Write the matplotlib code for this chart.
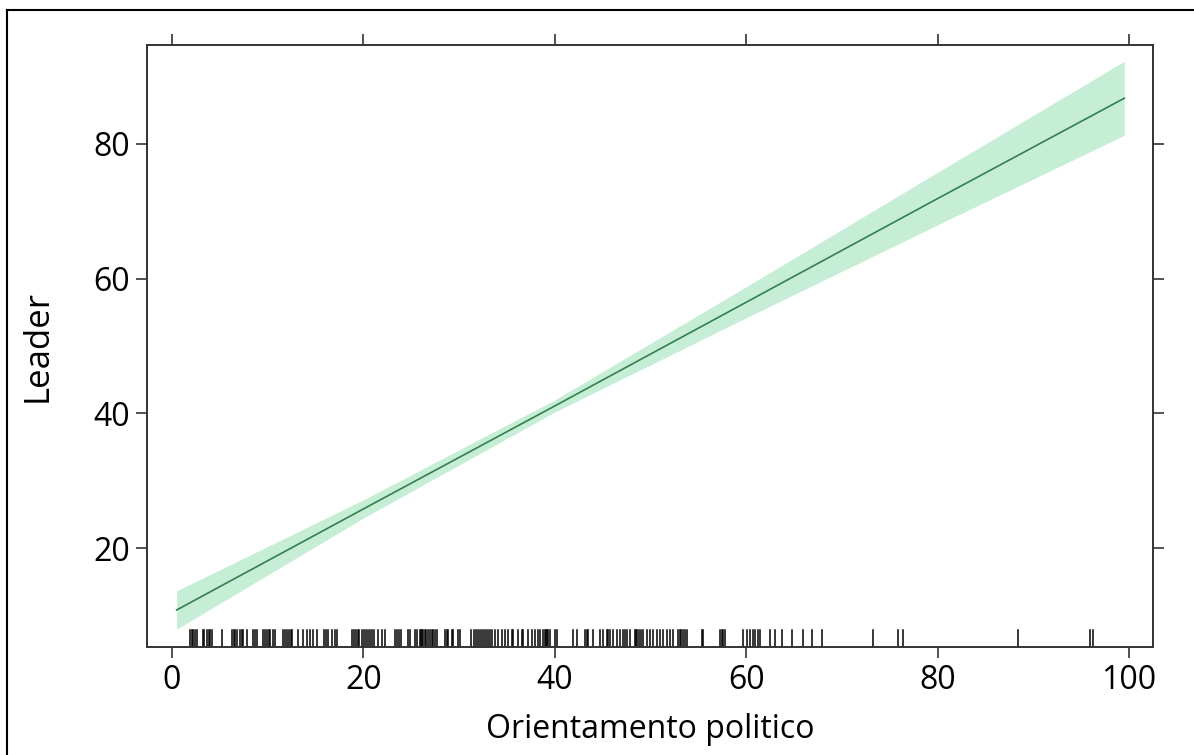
import matplotlib
matplotlib.use('Agg')
import numpy as np
from matplotlib import pyplot as plt
from matplotlib.lines import Line2D

plt.rcParams['font.family'] = ['Open Sans', 'DejaVu Sans']

# fitted effect with confidence band
x_fit = [0.5, 20, 40, 60, 80, 99.5]
y_fit = [10.8, 25.8, 41.1, 56.5, 71.9, 86.8]
y_lower = [7.95, 24.45, 40.2, 54.2, 68.0, 81.3]
y_upper = [13.65, 27.15, 42.0, 58.8, 75.8, 92.3]

# observed values of the predictor (rug)
rug_values = [
    1.9, 2.1, 2.2, 2.4, 2.6, 3.2, 3.4, 3.7, 3.9, 4.0, 4.2, 5.2,
    6.3, 6.5, 6.6, 6.8, 7.1, 7.3, 7.4, 7.9, 8.5, 8.7, 8.9,
    9.5, 9.7, 9.9, 10.1, 10.3, 10.6, 10.8, 11.6, 11.8, 12.0, 12.2, 12.4, 12.6,
    13.2, 13.7, 14.1, 14.4, 14.7, 15.2, 15.9, 16.1, 16.3, 16.7, 17.0, 17.3,
    18.8, 19.0, 19.2, 19.4, 19.6, 19.9, 20.1, 20.3, 20.5, 20.7, 20.9, 21.1,
    21.5, 21.9, 22.3, 23.3, 23.5, 23.7, 23.9, 24.7, 24.9, 25.4, 25.6,
    25.9, 26.0, 26.1, 26.2, 26.4, 26.6, 26.8, 27.0, 27.2, 27.3, 27.5, 27.7,
    28.5, 28.7, 28.8, 29.3, 29.4, 29.9, 30.1,
    31.3, 31.6, 31.8, 32.0, 32.2, 32.4, 32.6, 32.8, 33.0, 33.2, 33.4,
    33.8, 34.1, 34.5, 34.8, 35.1, 35.5, 35.6, 36.2, 36.6, 36.7, 37.2,
    37.6, 37.9, 38.2, 38.5, 38.8, 39.0, 39.1, 39.2, 39.3, 39.5, 40.0, 40.2,
    41.9, 42.3, 43.2, 43.4, 43.5, 44.0, 44.7, 45.0, 45.5, 45.6, 45.8,
    46.1, 46.5, 46.8, 47.1, 47.3, 47.5, 47.9, 48.4, 48.5, 48.6, 48.8, 49.0, 49.2,
    49.6, 49.9, 50.3, 50.7, 51.0, 51.3, 51.7, 52.0, 52.4,
    52.9, 53.1, 53.2, 53.4, 53.6, 53.8, 55.4, 55.5, 57.3, 57.5, 57.6, 57.8,
    59.7, 60.1, 60.4, 60.7, 60.9, 61.2, 61.4, 62.5, 63.0, 63.7,
    64.8, 65.9, 66.9, 67.9, 73.2, 75.9, 76.4, 88.4, 95.9, 96.2,
]

x_ticks = [0, 20, 40, 60, 80, 100]
y_ticks = [20, 40, 60, 80]

fig = plt.figure(figsize=(11.94, 7.55), dpi=100)
ax = fig.add_axes([0.1231, 0.1430, 0.8426, 0.7974])

ax.fill_between(x_fit, y_lower, y_upper, color='#c6eed6', linewidth=0)
ax.plot(x_fit, y_fit, color='#347f50', linewidth=1.2)

# rug along the bottom edge
for v in rug_values:
    ax.axvline(v, ymin=0, ymax=0.028, color='black', linewidth=1.1)

ax.set_xlim(-2.6, 102.5)
ax.set_ylim(5.3, 94.7)
ax.set_xticks(x_ticks)
ax.set_yticks(y_ticks)
ax.tick_params(direction='out', length=8, width=1.2, color='#333333',
               labelsize=23, top=True, right=True, pad=4)
for s in ax.spines.values():
    s.set_color('#333333')
    s.set_linewidth(1.4)

ax.set_xlabel('Orientamento politico', fontsize=23, labelpad=12)
ax.set_ylabel('Leader', fontsize=25, labelpad=28)

# partial frame around the figure
fig.add_artist(Line2D([7 / 1194, 7 / 1194], [1 - 10 / 755, -0.1],
                      transform=fig.transFigure, color='black', linewidth=1.5))
fig.add_artist(Line2D([7 / 1194, 1.1], [1 - 10 / 755, 1 - 10 / 755],
                      transform=fig.transFigure, color='black', linewidth=1.5))

fig.savefig('out.png', dpi=100)
